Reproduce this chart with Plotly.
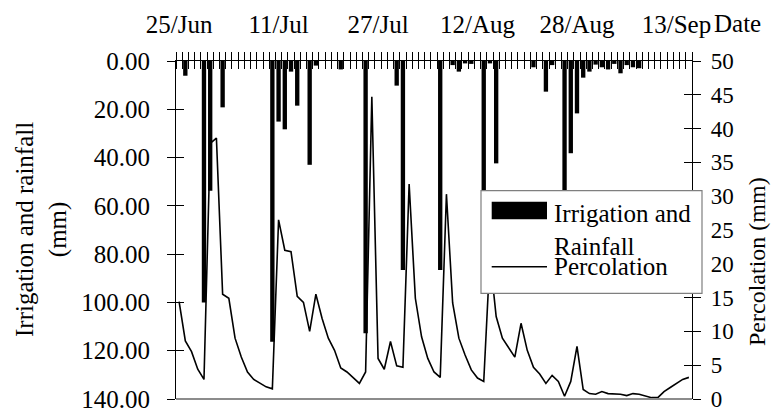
import plotly.graph_objects as go
import pandas as pd

# ---------------- data ----------------
dates = pd.date_range("2019-06-25", "2019-09-15", freq="D")

irrigation_rainfall = [
    0, 6.1, 0, 0, 100, 53.7, 0, 19.2, 0, 0,
    0, 0, 0, 0, 0, 116.3, 25.1, 28.3, 4.4, 18.5,
    0, 43, 1.9, 0, 0, 0, 3.5, 0, 0, 0,
    112.8, 0, 0, 0, 0, 10.2, 86.6, 0, 0, 0,
    0, 0, 86.6, 0, 1.7, 4.4, 1.0, 1.2, 0, 87,
    1.0, 42.4, 0, 0, 0, 0, 0, 2.6, 0, 12.7,
    1.7, 0, 87, 38.2, 21.7, 6.9, 4.4, 1.5, 2.6, 3.5,
    1.2, 5.1, 1.7, 2.6, 3.0, 0, 0, 0, 0, 0,
    0, 0, 0,
]

percolation = [
    14.4, 8.6, 7.0, 4.4, 2.9, 37.8, 38.6, 15.5, 14.9, 9.0,
    6.2, 4.0, 2.9, 2.3, 1.8, 1.5, 26.5, 22.0, 21.8, 15.2,
    14.3, 10.0, 15.5, 11.9, 9.0, 7.2, 4.6, 4.0, 3.2, 2.3,
    4.0, 44.7, 6.0, 4.4, 8.5, 4.9, 4.7, 31.8, 14.9, 9.2,
    6.0, 4.0, 3.2, 30.3, 14.2, 9.0, 6.5, 4.3, 3.1, 2.6,
    21.0, 12.2, 9.0, 7.6, 6.2, 11.2, 7.2, 4.7, 3.7, 2.3,
    3.5, 2.6, 0.4, 2.6, 7.8, 1.4, 0.8, 0.7, 1.1, 0.8,
    0.8, 0.7, 0.5, 0.8, 0.7, 0.5, 0.2, 0.2, 1.1, 1.7,
    2.3, 2.9, 3.2,
]

tick_dates = ["2019-06-25", "2019-07-11", "2019-07-27", "2019-08-12", "2019-08-28", "2019-09-13"]
tick_labels = ["25/Jun", "11/Jul", "27/Jul", "12/Aug", "28/Aug", "13/Sep"]

left_title = "Irrigation and rainfall<br>(mm)"
right_title = "Percolation (mm)"
legend_bar = "Irrigation and<br>Rainfall"
legend_line = "Percolation"

# ---------------- geometry helpers ----------------
W, H = 771, 413
L, R, T, B = 176, 692, 61, 399


def px(x):
    return (x - L) / (R - L)


def py(y):
    return (B - y) / (B - T)


FONT = "Liberation Serif"
half_day = pd.Timedelta(hours=12)
x_range = [dates[0] - half_day, dates[-1] + half_day]
DAY_MS = 86400000

fig = go.Figure()
fig.add_trace(go.Bar(
    x=dates, y=irrigation_rainfall, name="Irrigation and Rainfall",
    marker=dict(color="black", line=dict(width=0)),
    xaxis="x", yaxis="y", showlegend=False,
))
fig.add_trace(go.Scatter(
    x=dates, y=percolation, name="Percolation", mode="lines",
    line=dict(color="black", width=1.6),
    xaxis="x", yaxis="y2", showlegend=False,
))
# invisible helpers so overlay axes (inner halves of crossing ticks) get drawn
fig.add_trace(go.Scatter(x=[dates[0]], y=[0], mode="markers", marker=dict(opacity=0),
                         xaxis="x2", yaxis="y3", showlegend=False, hoverinfo="skip"))
fig.add_trace(go.Scatter(x=[dates[0]], y=[0], mode="markers", marker=dict(opacity=0),
                         xaxis="x2", yaxis="y4", showlegend=False, hoverinfo="skip"))

tickfont = dict(family=FONT, size=25, color="black")

fig.update_layout(
    template="none",
    width=W, height=H,
    margin=dict(l=L, r=W - R, t=T, b=H - B, pad=0, autoexpand=False),
    paper_bgcolor="white", plot_bgcolor="white",
    bargap=0.3,
    font=dict(family=FONT, color="black"),
    xaxis=dict(
        type="date", side="top", anchor="y", range=x_range, automargin=False,
        showline=True, linecolor="black", linewidth=1.2,
        ticks="", tickvals=tick_dates, ticktext=tick_labels, tickfont=tickfont,
        ticklabelstandoff=17,
        minor=dict(ticks="outside", ticklen=8, tickcolor="black", tickwidth=1,
                   tick0="2019-06-24 12:00", dtick=DAY_MS, showgrid=False),
        showgrid=False, zeroline=False,
    ),
    xaxis2=dict(
        type="date", side="top", anchor="y", overlaying="x", range=x_range, automargin=False,
        showline=False, ticks="", showticklabels=False,
        minor=dict(ticks="inside", ticklen=8, tickcolor="black", tickwidth=1,
                   tick0="2019-06-24 12:00", dtick=DAY_MS, showgrid=False),
        showgrid=False, zeroline=False,
    ),
    yaxis=dict(
        range=[140, 0], tick0=0, dtick=20, tickformat=".2f", automargin=False,
        ticks="outside", ticklen=8, tickcolor="black", tickwidth=1,
        showline=True, linecolor="black", linewidth=1.2,
        tickfont=tickfont, ticklabelstandoff=12,
        showgrid=False, zeroline=False,
    ),
    yaxis3=dict(
        overlaying="y", side="left", anchor="x", range=[140, 0], tick0=0, dtick=20,
        automargin=False,
        ticks="inside", ticklen=8, tickcolor="black", tickwidth=1,
        showticklabels=False, showline=False, showgrid=False, zeroline=False,
    ),
    yaxis2=dict(
        overlaying="y", side="right", anchor="x", range=[0, 50], tick0=0, dtick=5,
        automargin=False,
        ticks="outside", ticklen=8, tickcolor="black", tickwidth=1,
        showline=True, linecolor="black", linewidth=1.2,
        tickfont=dict(family=FONT, size=23, color="black"), ticklabelstandoff=5,
        showgrid=False, zeroline=False,
    ),
    yaxis4=dict(
        overlaying="y", side="right", anchor="x", range=[0, 50], tick0=0, dtick=5,
        automargin=False,
        ticks="inside", ticklen=8, tickcolor="black", tickwidth=1,
        showticklabels=False, showline=False, showgrid=False, zeroline=False,
    ),
)

shapes = [
    # bottom grey axis line
    dict(type="line", xref="paper", yref="paper", x0=0, x1=1, y0=0, y1=0,
         line=dict(color="#8c8c8c", width=2)),
    # legend box
    dict(type="rect", xref="paper", yref="paper", layer="above",
         x0=px(481), x1=px(702), y0=py(293.3), y1=py(190.7),
         fillcolor="white", line=dict(color="#7f7f7f", width=1.2)),
    # legend bar swatch
    dict(type="rect", xref="paper", yref="paper", layer="above",
         x0=px(491.7), x1=px(547), y0=py(219.3), y1=py(201.7),
         fillcolor="black", line=dict(width=0)),
    # legend line swatch
    dict(type="line", xref="paper", yref="paper", layer="above",
         x0=px(491.7), x1=px(547), y0=py(266.7), y1=py(266.7),
         line=dict(color="black", width=1.6)),
]

legfont = dict(family=FONT, size=25, color="black")
annotations = [
    dict(text=legend_bar, x=px(552), y=py(198), xref="paper", yref="paper",
         xanchor="left", yanchor="top", align="left", showarrow=False, font=legfont),
    dict(text=legend_line, x=px(552), y=py(266), xref="paper", yref="paper",
         xanchor="left", yanchor="middle", showarrow=False, font=legfont),
    dict(text=left_title, x=px(41), y=py(230), xref="paper", yref="paper",
         xanchor="center", yanchor="middle", showarrow=False, textangle=-90,
         font=dict(family=FONT, size=25, color="black")),
    dict(text=right_title, x=px(757), y=py(262), xref="paper", yref="paper",
         xanchor="center", yanchor="middle", showarrow=False, textangle=-90,
         font=dict(family=FONT, size=24, color="black")),
    dict(text="Date", x=px(737), y=py(23), xref="paper", yref="paper",
         xanchor="center", yanchor="middle", showarrow=False,
         font=dict(family=FONT, size=25, color="black")),
]

fig.update_layout(shapes=shapes, annotations=annotations)

fig.write_html(
    "out.html",
    config={"displayModeBar": False},
    post_script="document.body.style.margin='0px';document.body.style.overflow='hidden';",
)
